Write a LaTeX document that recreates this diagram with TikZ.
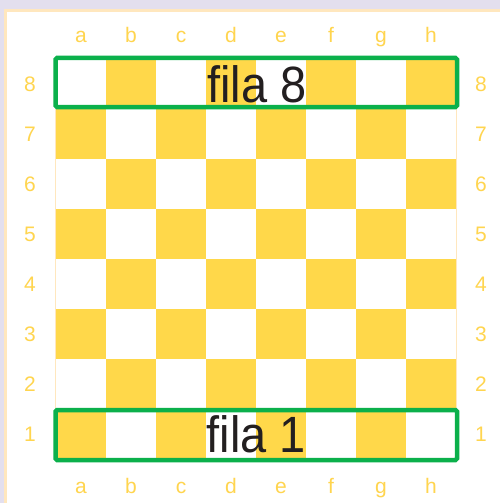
\documentclass[tikz,border=0pt]{standalone}
\usepackage{fontspec}
\setmainfont{Liberation Sans}
\definecolor{lav}{HTML}{E3DFEE}
\definecolor{panelborder}{HTML}{FFE7BE}
\definecolor{sq}{HTML}{FFD84A}
\definecolor{lbl}{HTML}{FFD54F}
\definecolor{grn}{HTML}{0BB04B}
\definecolor{ink}{HTML}{231F20}
\begin{document}
\begin{tikzpicture}[x=1pt,y=-1pt,
  coordlbl/.style={text=lbl,font=\fontsize{21}{21}\selectfont,inner sep=0pt},
  filabox/.style={draw=grn,line width=4.5pt,rounded corners=1.5pt},
  filatext/.style={text=ink,font=\fontsize{51}{51}\selectfont,inner sep=0pt,xscale=0.92,anchor=base}]
\useasboundingbox (0,0) rectangle (500,503);
\fill[lav] (0,0) rectangle (500,503);
\draw[panelborder,line width=3pt,fill=white] (5.5,10.5) rectangle (510,520);
% board
\foreach \c in {1,...,8}{
  \foreach \r in {1,...,8}{
    \pgfmathtruncatemacro{\parity}{mod(\c+\r,2)}
    \ifnum\parity=0
      \fill[sq] ({56+50*(\c-1)},{459-50*\r}) rectangle ++(50,50);
    \fi
  }
}
\draw[panelborder,line width=1.2pt] (55.5,59) rectangle (456.5,459);
% labels
\foreach \l [count=\i] in {a,b,c,d,e,f,g,h}{
  \node[coordlbl,anchor=base] (top\l) at ({81+50*(\i-1)},43) {\l};
  \node[coordlbl,anchor=base] (bot\l) at ({81+50*(\i-1)},493) {\l};
}
\foreach \r in {1,...,8}{
  \node[coordlbl] (left\r) at (30,{434-50*(\r-1)+0.5}) {\r};
  \node[coordlbl] (right\r) at (481,{434-50*(\r-1)+0.5}) {\r};
}
% fila boxes
\node[filabox,minimum width=401.5pt,minimum height=49pt,inner sep=0pt] (fila8box) at (256.25,82.5) {};
\node[filabox,minimum width=401.5pt,minimum height=50pt,inner sep=0pt] (fila1box) at (256.25,435) {};
\node[filatext] (fila8) at (257,102.5) {fila 8};
\node[filatext] (fila1) at (256.5,452) {fila 1};
\end{tikzpicture}
\end{document}
